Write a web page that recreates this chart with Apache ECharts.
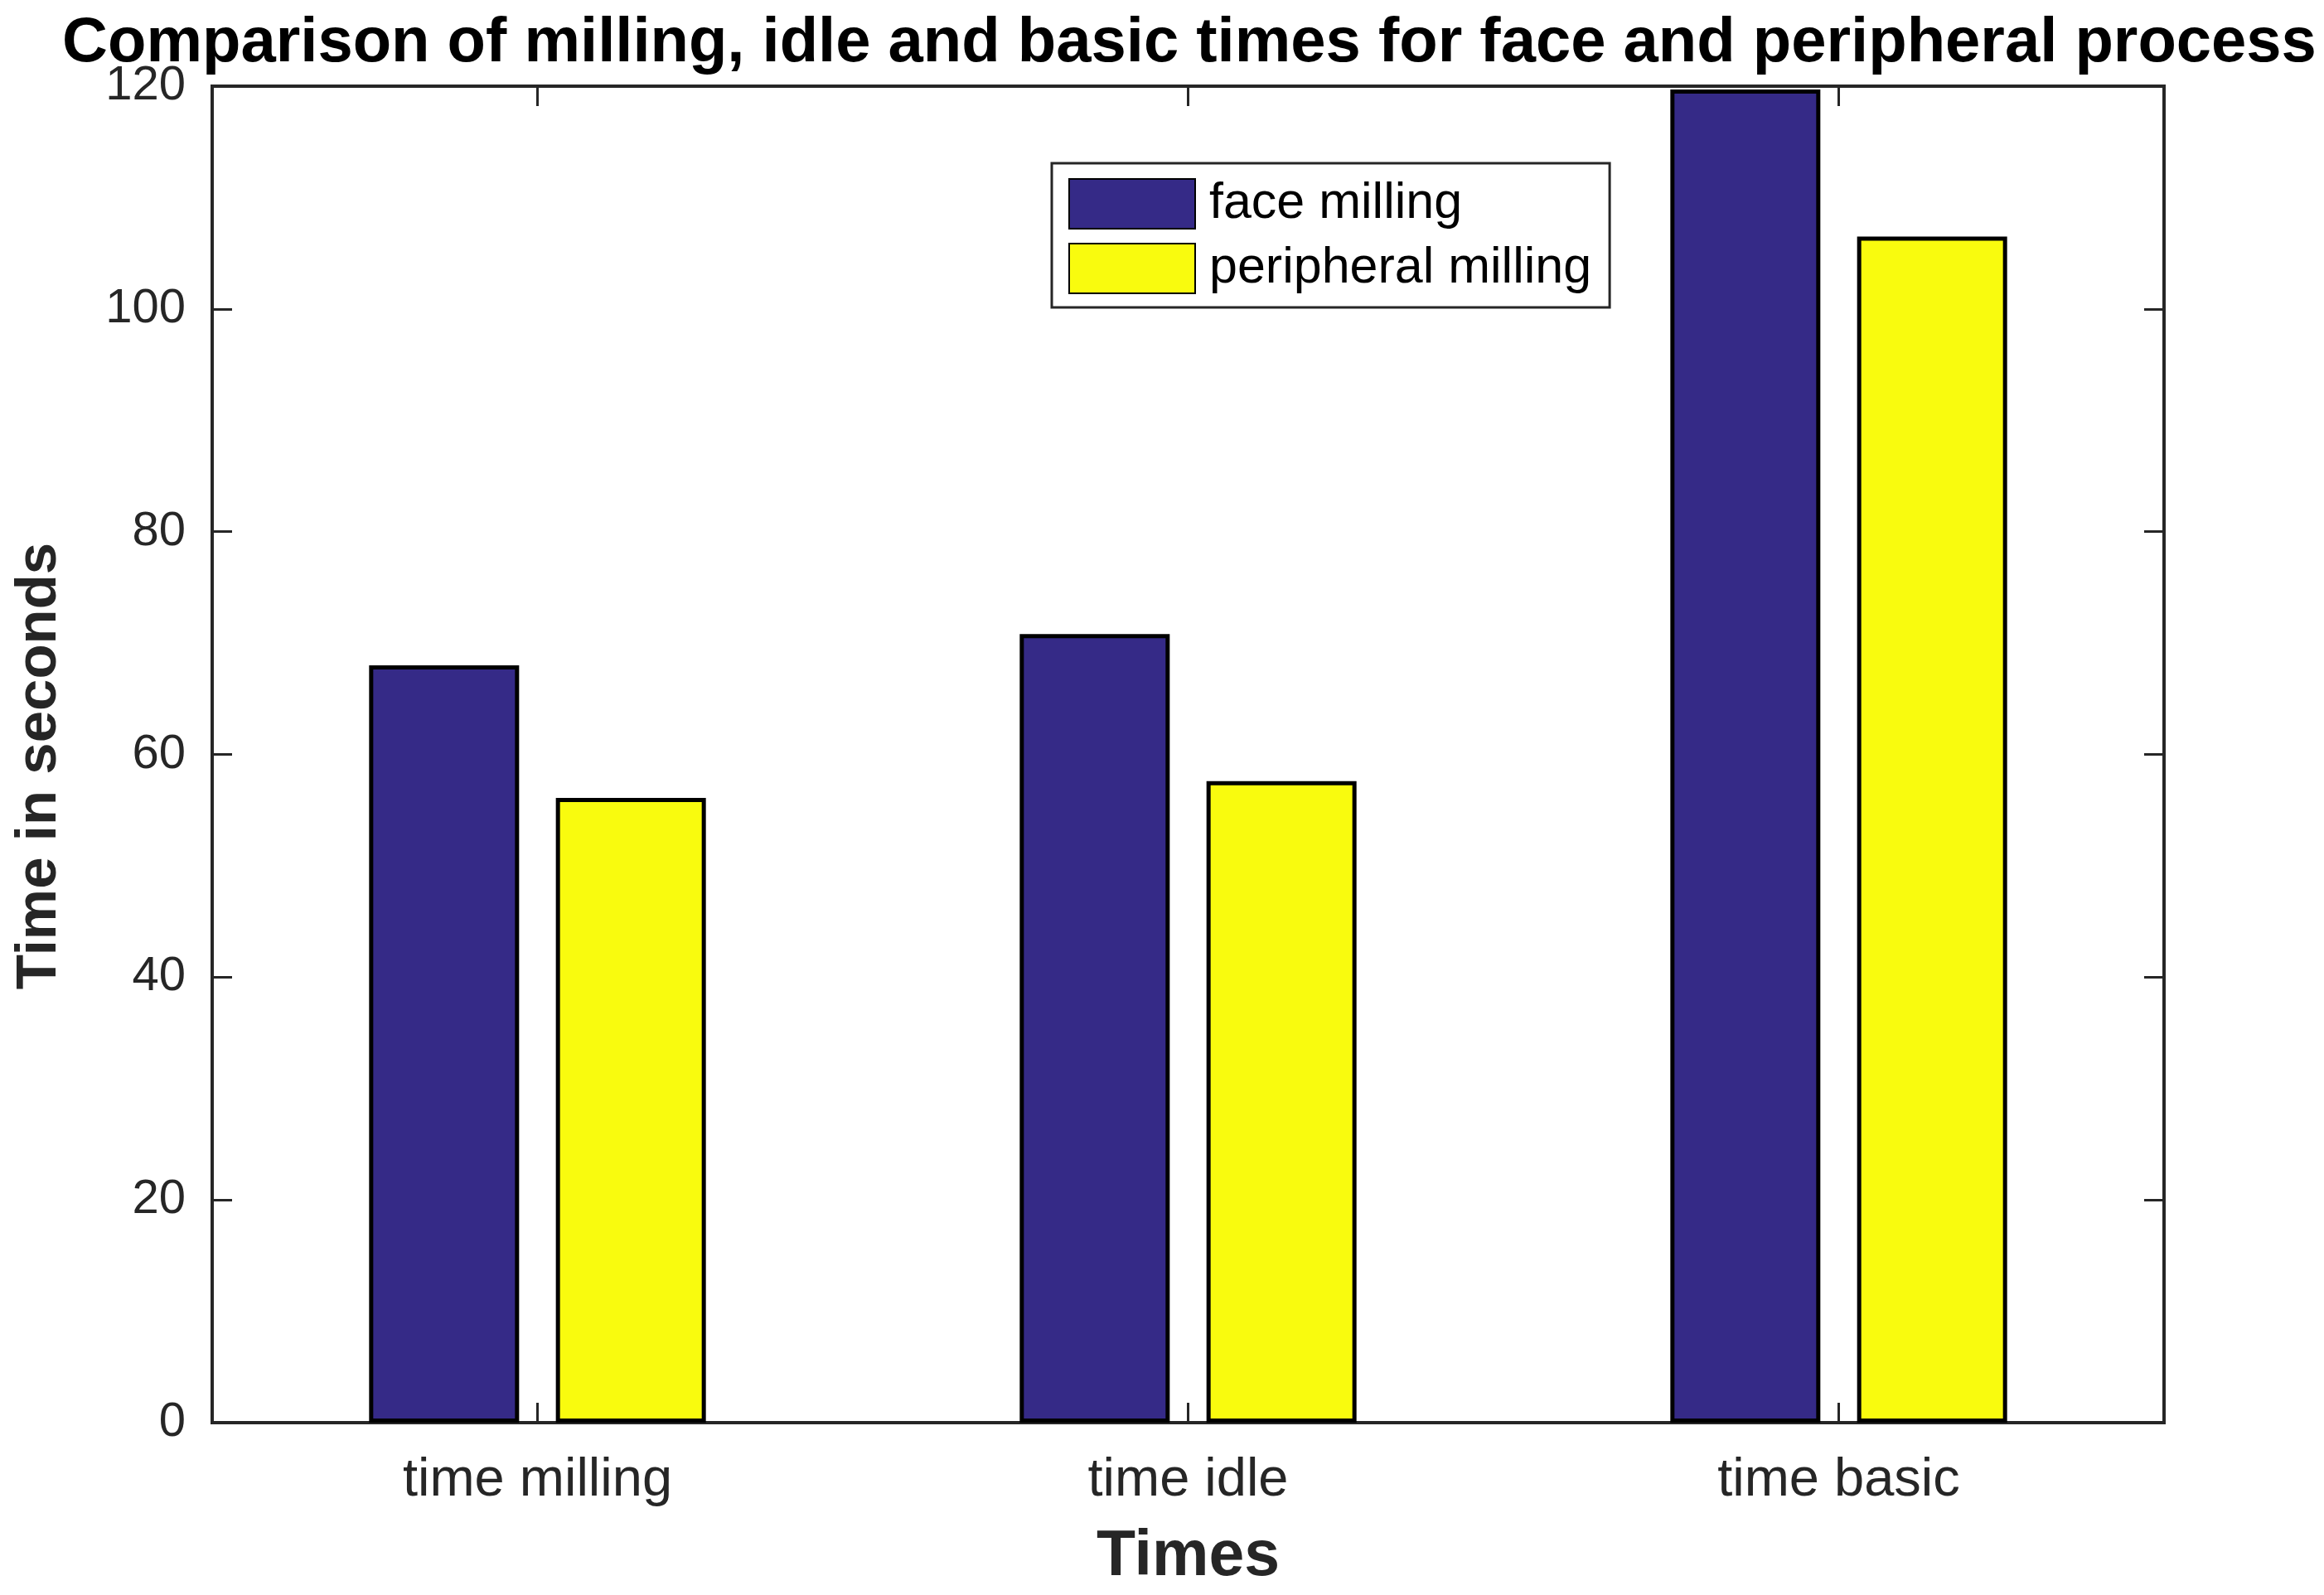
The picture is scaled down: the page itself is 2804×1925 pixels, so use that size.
<!DOCTYPE html>
<html>
<head>
<meta charset="utf-8">
<script src="https://cdn.jsdelivr.net/npm/echarts@6/dist/echarts.min.js"></script>
<style>
html,body{margin:0;padding:0;background:#fff;}
#chart{width:2804px;height:1925px;}
</style>
</head>
<body>
<div id="chart"></div>
<script>
const categories = ['time milling', 'time idle', 'time basic'];
const faceMilling = [68.0, 70.8, 119.7];
const peripheralMilling = [56.1, 57.6, 106.5];
const yTicks = { min: 0, max: 120, interval: 20 };

const FONT = '"Liberation Sans", Arial, Helvetica, sans-serif';
const AX = '#262626';

const chart = echarts.init(document.getElementById('chart'), null, { renderer: 'canvas' });
chart.setOption({
  animation: false,
  backgroundColor: '#ffffff',
  title: {
    text: 'Comparison of milling, idle and basic times for face and peripheral process',
    left: 1430,
    textAlign: 'center',
    top: 10,
    textStyle: { fontFamily: FONT, fontWeight: 'bold', fontSize: 76, color: '#000' }
  },
  legend: {
    orient: 'vertical',
    left: 1269,
    top: 197,
    padding: [18, 22, 16, 20],
    itemWidth: 152,
    itemHeight: 60,
    itemGap: 16,
    icon: 'rect',
    borderColor: AX,
    borderWidth: 3,
    backgroundColor: '#fff',
    textStyle: { fontFamily: FONT, fontSize: 61, color: '#000', padding: [0, 0, 0, 12] },
    data: ['face milling', 'peripheral milling']
  },
  grid: {
    left: 256, right: 193, top: 104, bottom: 208,
    show: true, borderColor: AX, borderWidth: 4, backgroundColor: 'transparent'
  },
  xAxis: [{
    type: 'category',
    data: categories,
    position: 'bottom',
    axisLine: { show: true, onZero: false, lineStyle: { color: AX, width: 4 } },
    axisTick: { show: true, inside: true, alignWithLabel: true, length: 24, lineStyle: { color: AX, width: 3 } },
    axisLabel: { fontFamily: FONT, fontSize: 65, color: AX, margin: 38 },
    name: 'Times',
    nameLocation: 'middle',
    nameGap: 124,
    nameTextStyle: { fontFamily: FONT, fontWeight: 'bold', fontSize: 77, color: AX },
    splitLine: { show: false }
  }, {
    type: 'category',
    data: categories,
    position: 'top',
    axisLine: { show: true, onZero: false, lineStyle: { color: AX, width: 4 } },
    axisTick: { show: true, inside: true, alignWithLabel: true, length: 24, lineStyle: { color: AX, width: 3 } },
    axisLabel: { show: false },
    splitLine: { show: false }
  }],
  yAxis: [{
    type: 'value',
    min: yTicks.min, max: yTicks.max, interval: yTicks.interval,
    position: 'left',
    axisLine: { show: true, onZero: false, lineStyle: { color: AX, width: 4 } },
    axisTick: { show: true, inside: true, length: 24, lineStyle: { color: AX, width: 3 } },
    axisLabel: { fontFamily: FONT, fontSize: 58, color: AX, margin: 32 },
    splitLine: { show: false },
    name: 'Time in seconds',
    nameLocation: 'middle',
    nameGap: 174,
    nameTextStyle: { fontFamily: FONT, fontWeight: 'bold', fontSize: 69, color: AX, padding: [0, 28, 0, 0] }
  }, {
    type: 'value',
    min: yTicks.min, max: yTicks.max, interval: yTicks.interval,
    position: 'right',
    axisLine: { show: true, onZero: false, lineStyle: { color: AX, width: 4 } },
    axisTick: { show: true, inside: true, length: 24, lineStyle: { color: AX, width: 3 } },
    axisLabel: { show: false },
    splitLine: { show: false }
  }],
  series: [{
    name: 'face milling',
    type: 'bar',
    xAxisIndex: 0, yAxisIndex: 0,
    data: faceMilling,
    barWidth: 181,
    barGap: '24.5%',
    itemStyle: { color: '#352A87', borderColor: '#000', borderWidth: 5 }
  }, {
    name: 'peripheral milling',
    type: 'bar',
    xAxisIndex: 0, yAxisIndex: 0,
    data: peripheralMilling,
    barWidth: 181,
    barGap: '24.5%',
    itemStyle: { color: '#F9FB0E', borderColor: '#000', borderWidth: 5 }
  }]
});
</script>
</body>
</html>
